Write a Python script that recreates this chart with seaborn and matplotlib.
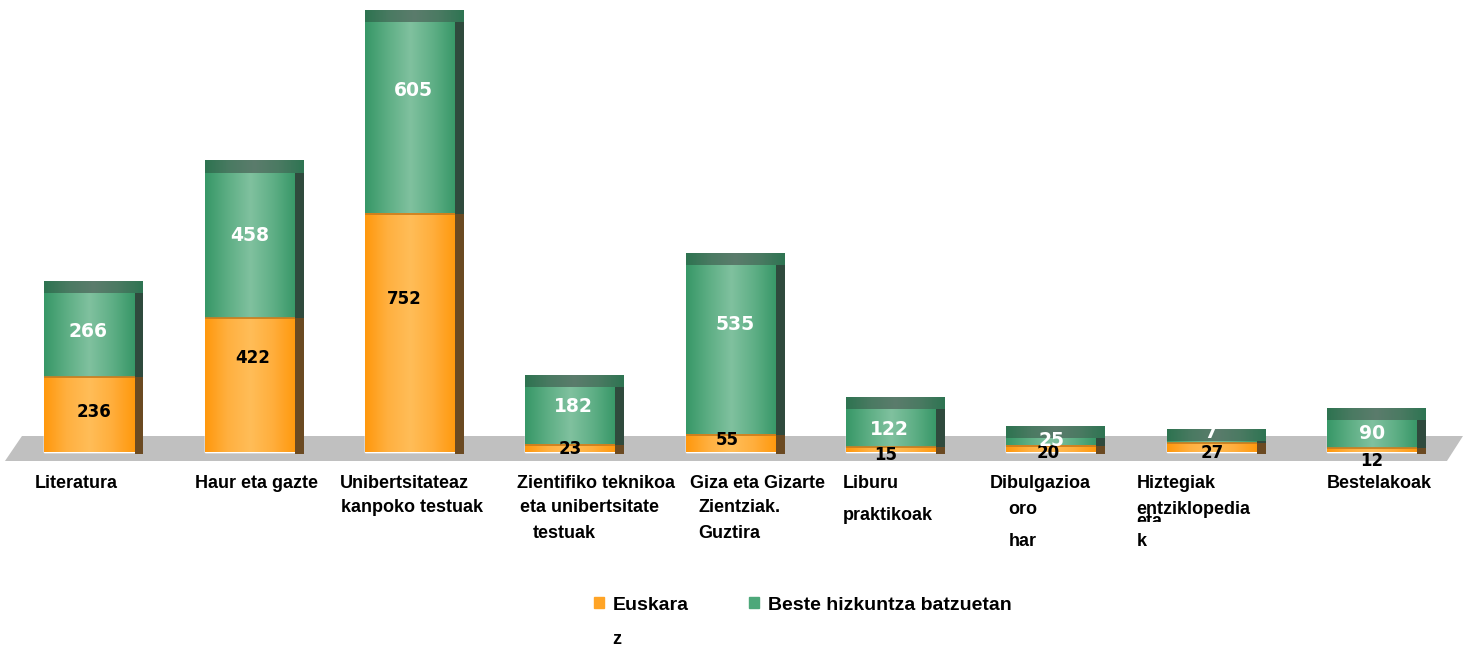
import numpy as np
import pandas as pd
import seaborn as sns
import matplotlib.pyplot as plt
from matplotlib.colors import LinearSegmentedColormap
from matplotlib.patches import Rectangle, Polygon, Patch
from matplotlib.transforms import Bbox, TransformedBbox

# ---------------------------------------------------------------- data
categories = ["Literatura", "Haur eta gazte", "Unibertsitateaz kanpoko testuak",
              "Zientifiko teknikoa eta unibertsitate testuak",
              "Giza eta Gizarte Zientziak. Guztira", "Liburu praktikoak",
              "Dibulgazioa oro har", "Hiztegiak eta entziklopediak", "Bestelakoak"]
euskara = [236, 422, 752, 23, 55, 15, 20, 27, 12]
beste = [266, 458, 605, 182, 535, 122, 25, 7, 90]
series = ["Euskara", "Beste hizkuntza batzuetan"]

# category labels as they are wrapped in the picture:
# (line, left shift from bar centre px, line centre px from top)
tick_lines = [
    [("Literatura", -55, 483)],
    [("Haur eta gazte", -55, 483)],
    [("Unibertsitateaz", -70, 483), ("kanpoko testuak", -69, 507)],
    [("Zientifiko teknikoa", -53, 483), ("eta unibertsitate", -50, 508), ("testuak", -38, 533)],
    [("Giza eta Gizarte", -41, 483), ("Zientziak.", -32, 508), ("Guztira", -32, 533)],
    [("Liburu", -48, 483), ("praktikoak", -48, 515)],
    [("Dibulgazioa", -62, 483), ("oro", -43, 510), ("har", -43, 542)],
    [("Hiztegiak", -75, 483), ("entziklopedia", -75, 509), ("k", -75, 541)],
    [("Bestelakoak", -45, 483)],
]

# value label nudges from segment centre (px right, px up)
nudge_eu = [(5, 3), (3, 27), (-6, 34), (0, -1), (-3, 3), (-5, -5), (-3, -4), (1, -5), (0, -11)]
nudge_be = [(-1, 4), (0, 10), (3, 27), (3, 9), (4, 25), (-2, -2), (0, 1), (0, 10), (0, 0)]

# ---------------------------------------------------------------- style
W, H = 1471, 646
BASE_PX = 452          # baseline, px from top
AX_BOTTOM_PX = 548     # labels get cut here
PX_PER_UNIT = 0.317
SLOT_PX = 160.3
FIRST_PX = 89.5
BAR_W = 0.5615
SIDE_W = 0.056
CAP_H = 12 / PX_PER_UNIT

orange = "#FFA426"
green = "#4DA87A"
cm_orange = LinearSegmentedColormap.from_list("o", ["#FF980C", "#FFB040", "#FFBD58", "#FFAE3C", "#FF980C"])
cm_green = LinearSegmentedColormap.from_list("g", ["#379767", "#5DAE84", "#80C19F", "#5FAF86", "#379767"])
cm_cap = LinearSegmentedColormap.from_list("c", ["#2D7350", "#4A7A62", "#5B7C6C", "#4A7A62", "#2E7452"])

label_font = dict(family="Liberation Sans", weight="bold", size=13)

sns.set_style("white")
fig = plt.figure(figsize=(W / 100, H / 100), dpi=100)
ax = fig.add_axes([0, (H - AX_BOTTOM_PX) / H, 1, AX_BOTTOM_PX / H])

df = pd.DataFrame({"kategoria": categories, "Euskara": euskara, "Beste": beste})
df["guztira"] = df["Euskara"] + df["Beste"]

sns.barplot(data=df, x="kategoria", y="guztira", color=green, width=BAR_W,
            saturation=1, errorbar=None, ax=ax, zorder=2)
sns.barplot(data=df, x="kategoria", y="Euskara", color=orange, width=BAR_W,
            saturation=1, errorbar=None, ax=ax, zorder=2.1)

n = len(categories)
green_bars = ax.patches[:n]
orange_bars = ax.patches[n:2 * n]


def shade(x0, y0, w, h, cmap, z):
    grad = np.linspace(0, 1, 256).reshape(1, -1)
    ax.imshow(grad, cmap=cmap, extent=(x0, x0 + w, y0, y0 + h), aspect="auto",
              origin="lower", zorder=z, interpolation="bicubic")


def value_label(x, y, s, nudge, color, size):
    ax.annotate(s, xy=(x, y), xytext=nudge, textcoords="offset pixels",
                ha="center", va="center", color=color, family="DejaVu Sans",
                weight="bold", fontsize=size, zorder=3)


sink = 2 / PX_PER_UNIT
for i in range(n):
    gp, op = green_bars[i], orange_bars[i]
    x0, w = gp.get_x(), gp.get_width()
    e_top = op.get_height()
    g_top = gp.get_height()
    shade(x0, e_top, w, g_top - e_top, cm_green, 2.05)
    shade(x0, 0, w, e_top, cm_orange, 2.15)
    # boundary line
    ax.plot([x0, x0 + w], [e_top, e_top], color="#C77A1C", lw=1.2, zorder=2.2,
            solid_capstyle="butt")
    # right side faces
    ax.add_patch(Rectangle((x0 + w, e_top), SIDE_W, g_top - e_top,
                           color="#2F4A3D", lw=0, zorder=2.2))
    ax.add_patch(Rectangle((x0 + w, -sink), SIDE_W, e_top + sink,
                           color="#6B4A22", lw=0, zorder=2.2))
    # top cap
    shade(x0, g_top, w + SIDE_W, CAP_H, cm_cap, 2.3)

    cx = x0 + w / 2
    value_label(cx, e_top / 2, f"{euskara[i]}", nudge_eu[i], "black", 12)
    value_label(cx, e_top + beste[i] / 2, f"{beste[i]}", nudge_be[i], "white", 13.5)

# grey floor
lo = -FIRST_PX / SLOT_PX
hi = (W - FIRST_PX) / SLOT_PX
f_top = (BASE_PX - 436) / PX_PER_UNIT
f_bot = (BASE_PX - 461) / PX_PER_UNIT
ax.add_patch(Polygon([(lo + 0.137, f_top), (hi - 0.05, f_top), (hi - 0.15, f_bot), (lo + 0.031, f_bot)],
                     closed=True, color="#C0C0C0", lw=0, zorder=0.5))

# category labels
for i, lines in enumerate(tick_lines):
    for txt, dx, ypx in lines:
        ax.annotate(txt, xy=(i, 0), xytext=(dx, BASE_PX - ypx), textcoords="offset pixels",
                    ha="left", va="center", annotation_clip=False, clip_on=True,
                    color="black", zorder=3, **label_font)

# the squeezed "eta" under "entziklopedia"
t = ax.annotate("eta", xy=(7, 0), xytext=(-75, BASE_PX - 521), textcoords="offset pixels",
                ha="left", va="center", annotation_clip=False, clip_on=True,
                color="black", zorder=2.9, **label_font)
t.set_clip_box(TransformedBbox(Bbox([[0, (H - 522) / H], [1, (H - 512) / H]]), fig.transFigure))

ax.set_xlim(lo, hi)
ax.set_ylim(-(AX_BOTTOM_PX - BASE_PX) / PX_PER_UNIT, BASE_PX / PX_PER_UNIT)
ax.set_axis_off()

# legend
legend_font = dict(family="Liberation Sans", weight="bold", size=14)
handles = [Patch(color=orange), Patch(color=green)]
fig.legend(handles, series, ncol=2, loc="center",
           bbox_to_anchor=(803 / W, 1 - 605 / H), frameon=False, prop=legend_font,
           labelcolor="black", handlelength=0.52, handleheight=0.52,
           handletextpad=0.46, columnspacing=3.1)
fig.text(612 / W, 1 - 640 / H, "z", ha="left", va="center", color="black", **label_font)

fig.savefig("out.png", dpi=100)
